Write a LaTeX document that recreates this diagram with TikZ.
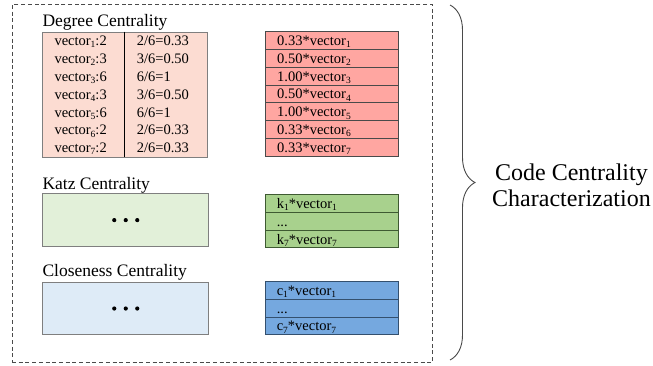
\documentclass[tikz,border=0pt]{standalone}
\usepackage{fontspec}
\setmainfont{Liberation Serif}
\usetikzlibrary{decorations.pathreplacing}
\definecolor{pinklt}{HTML}{FCDCD2}
\definecolor{redmd}{HTML}{FFA6A1}
\definecolor{greenlt}{HTML}{E2F0D9}
\definecolor{greenmd}{HTML}{A8D18D}
\definecolor{bluelt}{HTML}{DEEBF7}
\definecolor{bluemd}{HTML}{75A8DF}
\definecolor{greyline}{HTML}{7F7F7F}
\definecolor{darkline}{HTML}{4A4A4A}
\definecolor{greenline}{HTML}{3E5A32}
\definecolor{blueline}{HTML}{34506E}
\newcommand{\sbs}[1]{\raisebox{-2.2pt}{\fontsize{9.5}{10}\selectfont #1}}
\tikzset{
  heading/.style={font=\fontsize{17.5}{20}\selectfont, anchor=base west, inner sep=0pt},
  celltext/.style={font=\fontsize{14.5}{17}\selectfont, anchor=base west, inner sep=0pt},
  panelbox/.style={draw=greyline, line width=0.9pt, anchor=north west, minimum width=166pt, minimum height=52.7pt, inner sep=0pt},
  vecrow/.style={draw=#1, line width=0.9pt, anchor=north west, font=\fontsize{14.5}{17}\selectfont,
    inner xsep=11.7pt, inner ysep=0pt, text width=109.9pt, align=left,
    text height=11.5pt, text depth=1.5pt},
  dotmark/.style={circle, fill=black, inner sep=0pt, minimum size=4.2pt},
  outline/.style={draw=darkline, line width=0.9pt, dash pattern=on 4pt off 2.7pt, inner sep=0pt},
}
\begin{document}
\begin{tikzpicture}[x=1pt, y=-1pt]
\useasboundingbox (0,0) rectangle (653,365);

% dashed outer panel
\node[outline, minimum width=420.7pt, minimum height=357.6pt] (panel) at (222.35,183.5) {};

% ---- Degree centrality ----
\node[heading] (degtitle) at (42.3,26) {Degree Centrality};
\node[draw=greyline, fill=pinklt, line width=0.9pt, anchor=north west,
      minimum width=164.4pt, minimum height=125pt, inner sep=0pt] (degtab) at (42.3,31.7) {};
\coordinate (divtop) at (124.3,31.7);
\coordinate (divbot) at (124.3,156.7);
\draw[black, line width=0.9pt] (divtop) -- (divbot);
\foreach \i/\a/\b in {1/2/{2/6=0.33},
                      2/3/{3/6=0.50},
                      3/6/{6/6=1},
                      4/3/{3/6=0.50},
                      5/6/{6/6=1},
                      6/2/{2/6=0.33},
                      7/2/{2/6=0.33}}{
  \node[celltext] (dega\i) at (54.3,{31.7+17.857*(\i-0.5)+5}) {vector\sbs{\i}:\a};
  \node[celltext] (degb\i) at (136.7,{31.7+17.857*(\i-0.5)+5}) {\b};
}

% weighted vectors (degree)
\foreach \i/\w in {1/0.33,2/0.50,3/1.00,4/0.50,5/1.00,6/0.33,7/0.33}{
  \node[vecrow=darkline, fill=redmd, minimum height=17.857pt] (red\i)
    at (265,{31+17.857*(\i-1)}) {\w*vector\sbs{\i}};
}

% ---- Katz centrality ----
\node[heading] (katztitle) at (42.3,189.5) {Katz Centrality};
\node[panelbox, fill=greenlt] (katzbox) at (42.3,193.3) {};
\node[dotmark] (kd1) at ([xshift=-11.5pt]katzbox.center) {};
\node[dotmark] (kd2) at (katzbox.center) {};
\node[dotmark] (kd3) at ([xshift=11.5pt]katzbox.center) {};

\node[vecrow=greenline, fill=greenmd, minimum height=17.7pt] (g1) at (264.6,194.3) {k\sbs{1}*vector\sbs{1}};
\node[vecrow=greenline, fill=greenmd, minimum height=17.7pt] (g2) at (264.6,212.0) {...};
\node[vecrow=greenline, fill=greenmd, minimum height=17.7pt] (g3) at (264.6,229.7) {k\sbs{7}*vector\sbs{7}};

% ---- Closeness centrality ----
\node[heading] (clotitle) at (42.3,276.5) {Closeness Centrality};
\node[panelbox, fill=bluelt] (clobox) at (42.3,281.7) {};
\node[dotmark] (cd1) at ([xshift=-11.5pt]clobox.center) {};
\node[dotmark] (cd2) at (clobox.center) {};
\node[dotmark] (cd3) at ([xshift=11.5pt]clobox.center) {};

\node[vecrow=blueline, fill=bluemd, minimum height=17.77pt] (b1) at (264.6,281.0) {c\sbs{1}*vector\sbs{1}};
\node[vecrow=blueline, fill=bluemd, minimum height=17.77pt] (b2) at (264.6,298.8) {...};
\node[vecrow=blueline, fill=bluemd, minimum height=17.77pt] (b3) at (264.6,316.5) {c\sbs{7}*vector\sbs{7}};

% ---- brace and caption ----
\coordinate (bracetop) at (450,5);
\coordinate (bracebot) at (450,360);
\draw[darkline, line width=0.9pt, decorate, decoration={brace, amplitude=25pt}] (bracetop) -- (bracebot);
\node[font=\fontsize{24}{26.3}\selectfont, align=center, inner sep=0pt] (caption) at (571.5,185)
  {Code Centrality\\Characterization};
\end{tikzpicture}
\end{document}
